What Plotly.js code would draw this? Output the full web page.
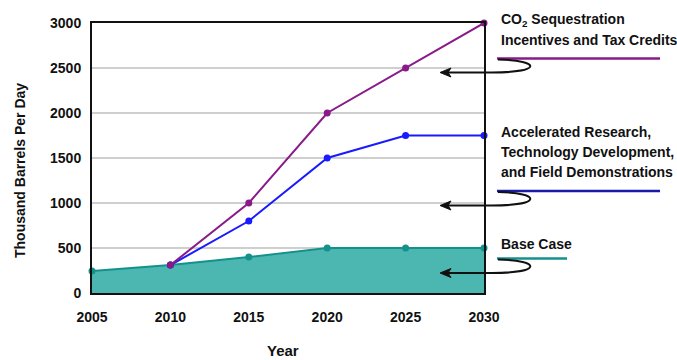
<!DOCTYPE html>
<html><head><meta charset="utf-8">
<script src="https://cdn.plot.ly/plotly-3.0.1.min.js"></script>
<style>html,body{margin:0;padding:0;background:#fff;}</style>
</head><body>
<div id="chart" style="width:677px;height:360px;"></div>
<script>
const years = [2005, 2010, 2015, 2020, 2025, 2030];
const baseCase = [245, 310, 400, 500, 500, 500];
const accelYears = [2010, 2015, 2020, 2025, 2030];
const accelerated = [310, 800, 1500, 1750, 1750];
const co2Years = [2010, 2015, 2020, 2025, 2030];
const co2Credits = [310, 1000, 2000, 2500, 3000];
const yTicks = [0, 500, 1000, 1500, 2000, 2500, 3000];

const W = 677, H = 360, L = 92, R = 484, T = 23, B = 293;
const px = x => (x - L) / (R - L);
const py = y => (B - y) / (B - T);
function pth(cmds) {
  return cmds.map(c => c[0] + ' ' + c.slice(1).map((v, i) => i % 2 === 0 ? px(v).toFixed(4) : py(v).toFixed(4)).join(' ')).join(' ');
}
function curve(y0, y1) {
  return pth([['M', 498, y0], ['C', 542, y0 + 1, 542, y1, 492, y1], ['L', 447, y1]]);
}
function head(y1) {
  return pth([['M', 440, y1], ['L', 451, y1 - 4.5], ['L', 448, y1], ['L', 451, y1 + 4.5]]) + ' Z';
}

const font = {family: 'Liberation Sans, Arial, sans-serif', color: '#111'};
const traces = [
  {x: years, y: baseCase, type: 'scatter', mode: 'lines+markers', fill: 'tozeroy', cliponaxis: false,
   fillcolor: '#4cb6b1', line: {color: '#15918c', width: 2}, marker: {color: '#15918c', size: 7}},
  {x: accelYears, y: accelerated, type: 'scatter', mode: 'lines+markers', cliponaxis: false,
   line: {color: '#1a1aff', width: 2}, marker: {color: '#1a1aff', size: 7}},
  {x: co2Years, y: co2Credits, type: 'scatter', mode: 'lines+markers', cliponaxis: false,
   line: {color: '#8a1a8a', width: 2}, marker: {color: '#8a1a8a', size: 7}}
];

function lab(text, x, y, size, extra) {
  return Object.assign({text: text, xref: 'paper', yref: 'paper', x: px(x), y: py(y), xanchor: 'left', yanchor: 'middle',
    showarrow: false, font: Object.assign({}, font, {size: size || 14, weight: 'bold'})}, extra || {});
}

const layout = {
  width: W, height: H, showlegend: false,
  margin: {l: L, r: W - R, t: T, b: H - B},
  paper_bgcolor: '#fff', plot_bgcolor: '#fff',
  font: font,
  xaxis: {range: [2005, 2030], tickvals: years, showgrid: false, zeroline: false,
    showline: true, mirror: true, linecolor: '#111', linewidth: 2, ticks: '',
    ticklabelstandoff: 10,
    tickfont: {size: 14, weight: 'bold', color: '#111'}},
  yaxis: {range: [0, 3000], tickvals: yTicks, showgrid: true, gridcolor: '#cfcfcf', gridwidth: 1.5,
    zeroline: false, showline: true, mirror: true, linecolor: '#111', linewidth: 2, ticks: '',
    ticklabelstandoff: 6,
    tickfont: {size: 14, weight: 'bold', color: '#111'}},
  shapes: [
    {type: 'line', xref: 'paper', yref: 'paper', x0: px(497), x1: px(660), y0: py(58.5), y1: py(58.5), line: {color: '#8a1a8a', width: 2.5}},
    {type: 'line', xref: 'paper', yref: 'paper', x0: px(497), x1: px(660), y0: py(191), y1: py(191), line: {color: '#1a1aaa', width: 2.5}},
    {type: 'line', xref: 'paper', yref: 'paper', x0: px(497), x1: px(567), y0: py(258.5), y1: py(258.5), line: {color: '#15918c', width: 2.5}},
    {type: 'path', xref: 'paper', yref: 'paper', path: curve(59.5, 72.5), line: {color: '#111', width: 2}},
    {type: 'path', xref: 'paper', yref: 'paper', path: curve(192, 205.5), line: {color: '#111', width: 2}},
    {type: 'path', xref: 'paper', yref: 'paper', path: curve(259.5, 273), line: {color: '#111', width: 2}},
    {type: 'path', xref: 'paper', yref: 'paper', path: head(72.5), fillcolor: '#111', line: {color: '#111', width: 1}},
    {type: 'path', xref: 'paper', yref: 'paper', path: head(205.5), fillcolor: '#111', line: {color: '#111', width: 1}},
    {type: 'path', xref: 'paper', yref: 'paper', path: head(273), fillcolor: '#111', line: {color: '#111', width: 1}}
  ],
  annotations: [
    lab('CO<sub>2</sub> Sequestration', 499, 20.5),
    lab('Incentives and Tax Credits', 499, 40.5),
    lab('Accelerated Research,', 499, 131.5),
    lab('Technology Development,', 499, 151.5),
    lab('and Field Demonstrations', 499, 171.5),
    lab('Base Case', 499, 244),
    lab('Thousand Barrels Per Day', 20, 171, 14, {xanchor: 'center', textangle: -90}),
    lab('Year', 283, 350, 15, {xanchor: 'center'})
  ]
};

Plotly.newPlot('chart', traces, layout, {displayModeBar: false, staticPlot: true});
</script>
</body></html>
